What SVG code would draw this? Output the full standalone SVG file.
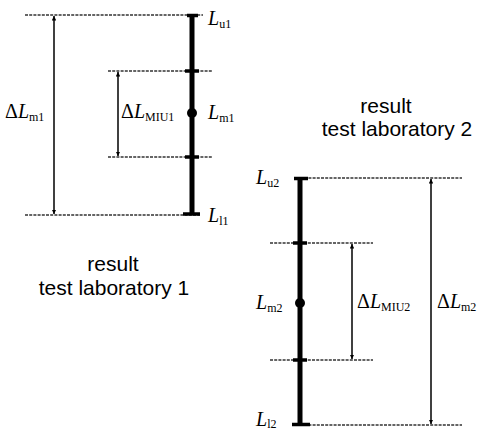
<svg xmlns="http://www.w3.org/2000/svg" width="485" height="430" viewBox="0 0 485 430">
<style>
.dash{stroke:#333;stroke-width:1.3;stroke-dasharray:3 1.2;fill:none}
.bar{stroke:#000;stroke-width:5;fill:none}
.cap{stroke:#000;stroke-width:3.5;fill:none}
.dim{stroke:#000;stroke-width:1.5;fill:none;marker-start:url(#a);marker-end:url(#a)}
.m{font-family:"Liberation Serif",serif;font-size:20px;fill:#000}
.i{font-style:italic}
.s{font-size:12px;font-style:normal}
.t{font-family:"Liberation Sans",Arial,sans-serif;font-size:21px;fill:#000}
</style>
<defs>
<marker id="a" viewBox="0 0 6 6" refX="6" refY="3" markerWidth="3" markerHeight="3" orient="auto-start-reverse"><path d="M0,0 L6,3 L0,6 z" fill="#000"/></marker>
</defs>
<g id="lab1">
<g id="lines1">
<line class="dash" x1="25" y1="15" x2="203" y2="15"/>
<line class="dash" x1="108" y1="71" x2="213" y2="71"/>
<line class="dash" x1="108" y1="157" x2="213" y2="157"/>
<line class="dash" x1="25" y1="215" x2="200" y2="215"/>
</g>
<g id="bar1">
<line class="bar" x1="192" y1="15" x2="192" y2="215"/>
<line class="cap" x1="187" y1="15.5" x2="198" y2="15.5"/>
<line class="cap" x1="185" y1="71" x2="199" y2="71"/>
<line class="cap" x1="185" y1="157" x2="199" y2="157"/>
<line class="cap" x1="183" y1="214" x2="200" y2="214"/>
<circle cx="192" cy="113" r="5" fill="#000"/>
</g>
<g id="dims1">
<line class="dim" x1="54" y1="16" x2="54" y2="214"/>
<line class="dim" x1="118" y1="72" x2="118" y2="156"/>
</g>
<g id="labels1">
<text class="m i" x="208" y="25">L<tspan class="s" dy="3">u1</tspan></text>
<text class="m i" x="208" y="119">L<tspan class="s" dy="3">m1</tspan></text>
<text class="m i" x="208" y="222">L<tspan class="s" dy="3">l1</tspan></text>
<text class="m" x="5" y="118">Δ<tspan class="i">L</tspan><tspan class="s" dy="3">m1</tspan></text>
<text class="m" x="121" y="118">Δ<tspan class="i">L</tspan><tspan class="s" dy="3">MIU1</tspan></text>
<text class="t" x="113" y="271" text-anchor="middle">result</text>
<text class="t" x="114" y="295" text-anchor="middle">test laboratory 1</text>
</g>
</g>
<g id="lab2">
<g id="lines2">
<line class="dash" x1="300" y1="178" x2="462" y2="178"/>
<line class="dash" x1="270" y1="243" x2="373" y2="243"/>
<line class="dash" x1="270" y1="360" x2="373" y2="360"/>
<line class="dash" x1="300" y1="425" x2="462" y2="425"/>
</g>
<g id="bar2">
<line class="bar" x1="300" y1="178" x2="300" y2="425"/>
<line class="cap" x1="294" y1="178.5" x2="308" y2="178.5"/>
<line class="cap" x1="293" y1="243" x2="307" y2="243"/>
<line class="cap" x1="293" y1="360" x2="307" y2="360"/>
<line class="cap" x1="292" y1="424.5" x2="310" y2="424.5"/>
<circle cx="300" cy="303" r="5" fill="#000"/>
</g>
<g id="dims2">
<line class="dim" x1="352" y1="244" x2="352" y2="359"/>
<line class="dim" x1="431" y1="179" x2="431" y2="424"/>
</g>
<g id="labels2">
<text class="m i" x="256" y="184">L<tspan class="s" dy="3">u2</tspan></text>
<text class="m i" x="256" y="309">L<tspan class="s" dy="3">m2</tspan></text>
<text class="m i" x="256" y="426">L<tspan class="s" dy="2">l2</tspan></text>
<text class="m" x="357" y="308">Δ<tspan class="i">L</tspan><tspan class="s" dy="3">MIU2</tspan></text>
<text class="m" x="437" y="308">Δ<tspan class="i">L</tspan><tspan class="s" dy="3">m2</tspan></text>
<text class="t" x="386" y="113" text-anchor="middle">result</text>
<text class="t" x="397" y="136" text-anchor="middle">test laboratory 2</text>
</g>
</g>
</svg>
